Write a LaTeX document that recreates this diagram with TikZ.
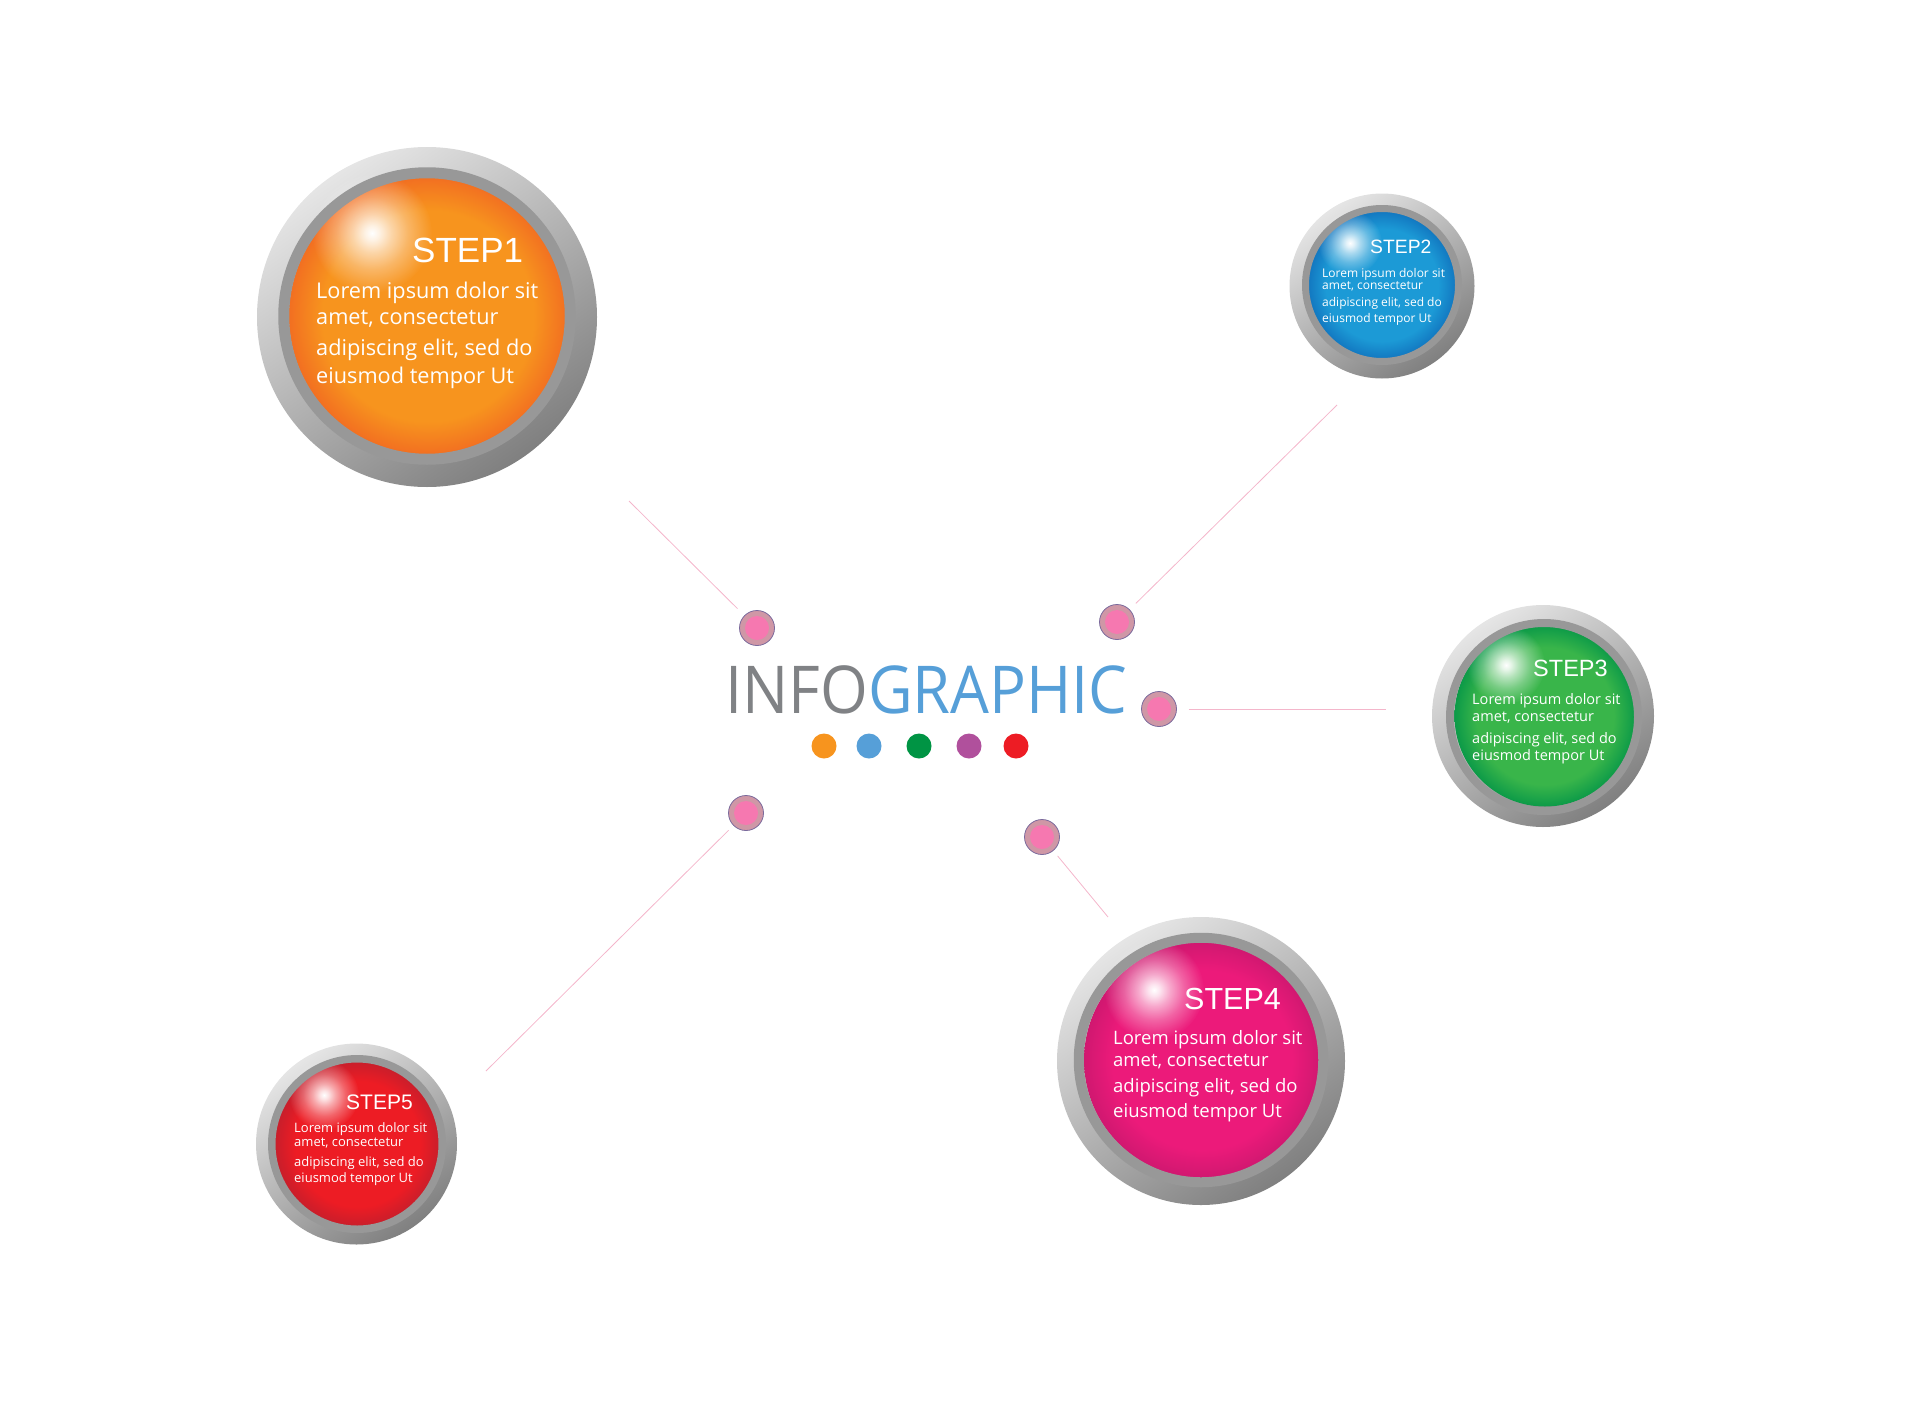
\documentclass[tikz,border=0pt]{standalone}
\usepackage{fontspec}
\setmainfont{Open Sans}
\newfontfamily\titlefont{Liberation Sans}
\newfontfamily\headfont[FakeStretch=0.93]{Open Sans}
\usetikzlibrary{fadings}
\definecolor{linkpink}{HTML}{F4B6CB}
\definecolor{dotrim}{HTML}{CF97A6}
\definecolor{dotpink}{HTML}{F678B0}
\definecolor{dotedge}{HTML}{7A6A9C}
\definecolor{inforing}{HTML}{989898}
\definecolor{infogray}{HTML}{808285}
\definecolor{infoblue}{HTML}{569FD8}
\definecolor{orangemid}{HTML}{F7941E}
\definecolor{orangerim}{HTML}{F26F21}
\definecolor{bluemid}{HTML}{1C9AD6}
\definecolor{bluerim}{HTML}{1277C0}
\definecolor{greenmid}{HTML}{39B54A}
\definecolor{greenrim}{HTML}{0C9A48}
\definecolor{pinkmid}{HTML}{EC1A7A}
\definecolor{pinkrim}{HTML}{D01870}
\definecolor{redmid}{HTML}{ED1C24}
\definecolor{redrim}{HTML}{C81E2B}
\definecolor{swatchgreen}{HTML}{009444}
\definecolor{swatchpurple}{HTML}{B0509C}
\pgfdeclareradialshading{glintmask}{\pgfpointorigin}{color(0bp)=(pgftransparent!0); color(3bp)=(pgftransparent!12); color(8bp)=(pgftransparent!38); color(15bp)=(pgftransparent!68); color(25bp)=(pgftransparent!100); color(50bp)=(pgftransparent!100)}
\pgfdeclarefading{glintfade}{\pgfuseshading{glintmask}}
\pgfdeclareradialshading[ballmid,ballrim]{glossy}{\pgfpointorigin}{color(0bp)=(ballmid); color(19bp)=(ballmid); color(25bp)=(ballrim); color(50bp)=(ballrim)}
\begin{document}
\begin{tikzpicture}[
             x                = 1pt,
             y                = -1pt,
             shell/.style     = {circle, inner sep=0, minimum size=#1, shading=axis,
                                 top color=white!90!black, bottom color=black!50, shading angle=35},
             ring/.style 2 args = {circle, inner sep=0, minimum size=#1, draw=inforing, line width=#2},
             ball/.code n args = {3}{\colorlet{ballmid}{#2}\colorlet{ballrim}{#3}%
                                 \tikzset{circle, inner sep=0, minimum size=#1, shading=glossy}},
             glint/.style     = {circle, inner sep=0, minimum size=#1, fill=white, path fading=glintfade},
             steptitle/.style = {anchor=base west, inner sep=0, white, font=\titlefont\fontsize{#1}{#1}\selectfont},
             steptext/.style 2 args = {anchor=north west, inner sep=0, white, align=left, font=\fontsize{#1}{#2}\selectfont},
             hub/.style       = {circle, inner sep=0, minimum size=35, outer sep=7, fill=dotrim, draw=dotedge, thick},
             hubcore/.style   = {circle, inner sep=0, minimum size=24, fill=dotpink},
             swatch/.style    = {circle, inner sep=0, minimum size=25, fill=#1},
             link/.style      = {linkpink, thick}]
             \useasboundingbox (0,0) rectangle (1920,1424);
             % step 1
             \node [shell=340] (shell1) at (427,317) {};
             \node [ball={278}{orangemid}{orangerim}] (ball1) at (428,316) {};
             \node [glint=120] (glint1) at (372,233) {};
             \node [ring={286.5}{11}] (ring1) at (427,316) {};
             \node [steptitle=35] (title1) at (412,262) {STEP1};
             \node [steptext={21.7}{26}] (text1) at (316,281.5) {Lorem ipsum dolor sit\\amet, consectetur\\[5pt]adipiscing elit, sed do\\[2pt]eiusmod tempor Ut};
             % step 2
             \node [shell=185] (shell2) at (1382,286) {};
             \node [ball={148}{bluemid}{bluerim}] (ball2) at (1382,285) {};
             \node [glint=64] (glint2) at (1350,243) {};
             \node [ring={153}{7}] (ring2) at (1382,285) {};
             \node [steptitle=19.3] (title2) at (1370,253) {STEP2};
             \node [steptext={12}{12}] (text2) at (1322,268) {Lorem ipsum dolor sit\\amet, consectetur\\[5pt]adipiscing elit, sed do\\[4pt]eiusmod tempor Ut};
             % step 3
             \node [shell=222] (shell3) at (1543,716) {};
             \node [ball={181}{greenmid}{greenrim}] (ball3) at (1545,716) {};
             \node [glint=78] (glint3) at (1506,665) {};
             \node [ring={188}{8}] (ring3) at (1544,717) {};
             \node [steptitle=23.5] (title3) at (1533,676) {STEP3};
             \node [steptext={14.5}{17}] (text3) at (1472,693.5) {Lorem ipsum dolor sit\\amet, consectetur\\[5pt]adipiscing elit, sed do\\eiusmod tempor Ut};
             % step 4
             \node [shell=288] (shell4) at (1201,1061) {};
             \node [ball={236}{pinkmid}{pinkrim}] (ball4) at (1202,1060) {};
             \node [glint=100] (glint4) at (1154,990) {};
             \node [ring={244.5}{10}] (ring4) at (1201,1060) {};
             \node [steptitle=30.5] (title4) at (1184,1009) {STEP4};
             \node [steptext={18.5}{22}] (text4) at (1113,1030) {Lorem ipsum dolor sit\\amet, consectetur\\[4pt]adipiscing elit, sed do\\[3pt]eiusmod tempor Ut};
             % step 5
             \node [shell=201] (shell5) at (356.5,1144) {};
             \node [ball={165}{redmid}{redrim}] (ball5) at (357.5,1144) {};
             \node [glint=70] (glint5) at (324,1095) {};
             \node [ring={170.5}{7.5}] (ring5) at (357,1144) {};
             \node [steptitle=21] (title5) at (346,1109) {STEP5};
             \node [steptext={13}{14}] (text5) at (294,1122.5) {Lorem ipsum dolor sit\\amet, consectetur\\[6pt]adipiscing elit, sed do\\[2pt]eiusmod tempor Ut};
             % hubs round the title
             \node [hub] (hub1) at (757,628) {};
             \node [hubcore] (core1) at (hub1) {};
             \node [hub] (hub2) at (1117,622) {};
             \node [hubcore] (core2) at (hub2) {};
             \node [hub] (hub3) at (1159,709) {};
             \node [hubcore] (core3) at (hub3) {};
             \node [hub] (hub4) at (1042,837) {};
             \node [hubcore] (core4) at (hub4) {};
             \node [hub] (hub5) at (746,813) {};
             \node [hubcore] (core5) at (hub5) {};
             % thin links, free ends short of the balls
             \coordinate (end1) at (629,501);
             \coordinate (end2) at (1337,405);
             \coordinate (end3) at (1386,709);
             \coordinate (end4) at (1108,917);
             \coordinate (end5) at (486,1071);
             \draw [link, shorten <=3] (hub1) -- (end1);
             \draw [link, shorten <=2] (hub2) -- (end2);
             \draw [link, shorten <=5] (hub3) -- (end3);
             \draw [link] (hub4) -- (end4);
             \draw [link] (hub5) -- (end5);
             % title
             \node [anchor=base west, inner sep=0, font=\headfont\fontsize{66}{66}\selectfont] (title) at (725,713) {\textcolor{infogray}{INFO}\textcolor{infoblue}{GRAPHIC}};
             \node [swatch=orangemid] (swatch1) at (824,746) {};
             \node [swatch=infoblue] (swatch2) at (869,746) {};
             \node [swatch=swatchgreen] (swatch3) at (919,746) {};
             \node [swatch=swatchpurple] (swatch4) at (969,746) {};
             \node [swatch=redmid] (swatch5) at (1016,746) {};
\end{tikzpicture}
\end{document}
